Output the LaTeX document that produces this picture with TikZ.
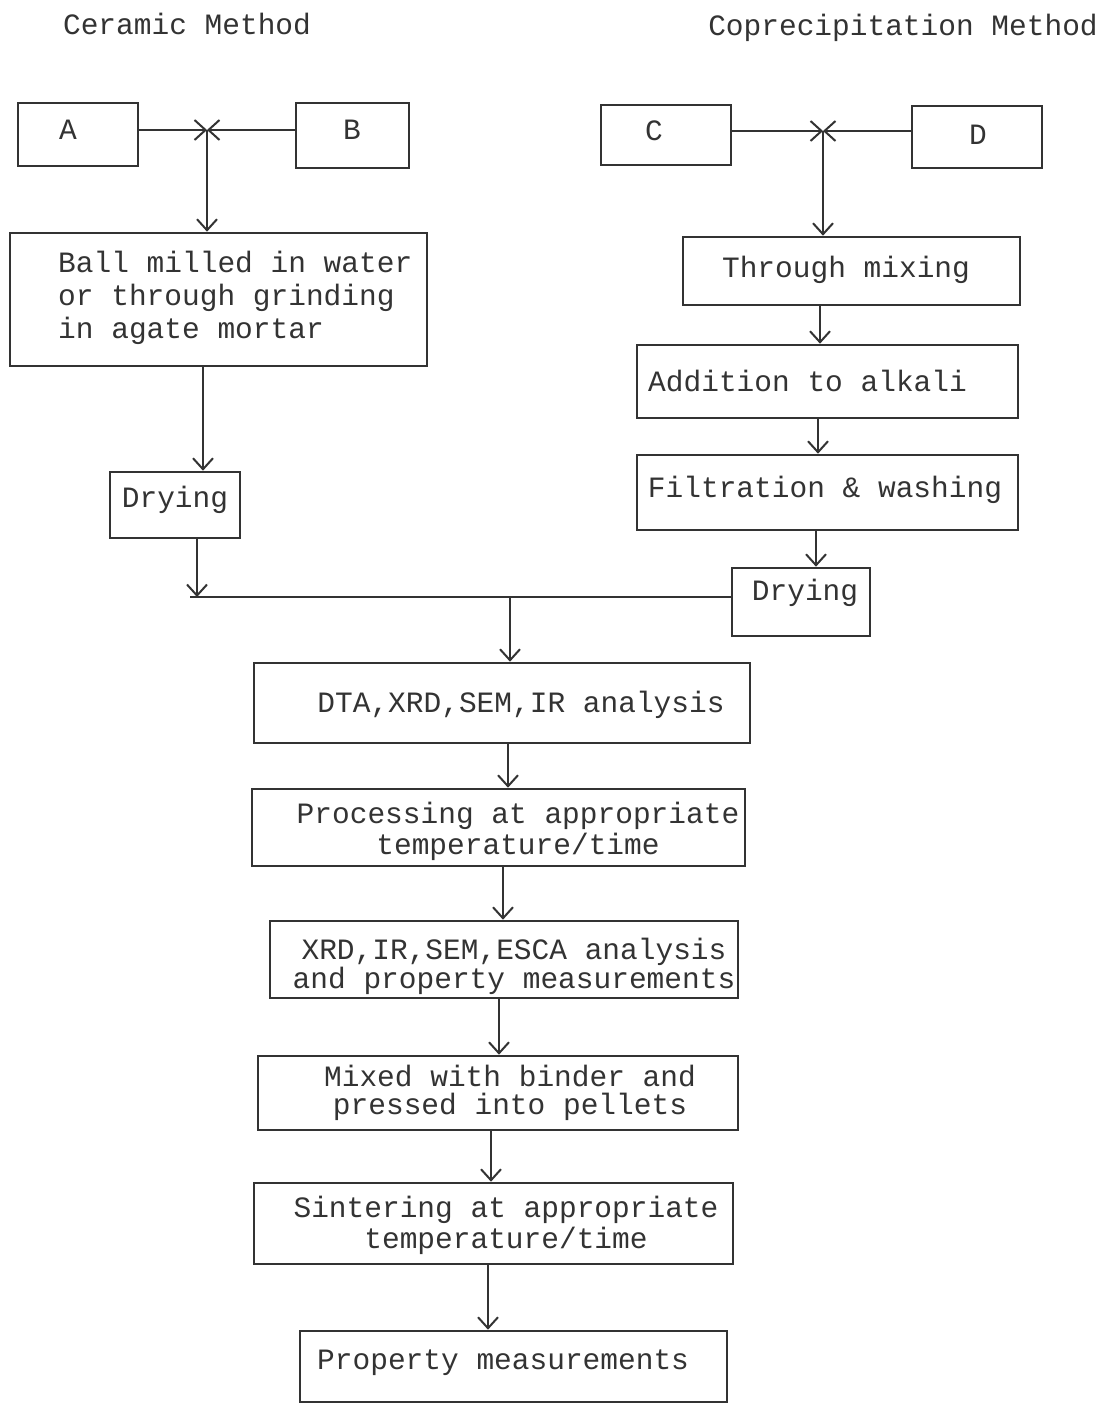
\documentclass[tikz,border=0pt]{standalone}
\usepackage{fontspec}
\setmainfont{Liberation Mono}
\usetikzlibrary{arrows.meta}
\definecolor{ink}{gray}{0.2}
\begin{document}
\begin{tikzpicture}[x=1pt,y=-1pt,
  box/.style={draw=ink,line width=2.6pt,inner sep=0pt},
  txt/.style={text=ink,font=\fontsize{29.5}{32}\selectfont,inner sep=0pt},
  arr/.style={draw=ink,line width=2.4pt,-{Straight Barb[length=11pt,width=20pt,line width=2pt]}},
  ln/.style={draw=ink,line width=2.4pt}]
\useasboundingbox[fill=white] (0,0) rectangle (1106,1405);
% titles
\node[txt] (t1) at (187,24) {Ceramic Method};
\node[txt] (t2) at (903,28) {Coprecipitation Method};
% boxes
\node[box,minimum width=120,minimum height=63] (A) at (78,134.5) {};
\node[box,minimum width=113,minimum height=65] (B) at (352.5,135.5) {};
\node[box,minimum width=417,minimum height=133] (Ball) at (218.5,299.5) {};
\node[box,minimum width=130,minimum height=66] (DryL) at (175,505) {};
\node[box,minimum width=130,minimum height=60] (C) at (666,135) {};
\node[box,minimum width=130,minimum height=62] (D) at (977,137) {};
\node[box,minimum width=337,minimum height=68] (Thr) at (851.5,271) {};
\node[box,minimum width=381,minimum height=73] (Add) at (827.5,381.5) {};
\node[box,minimum width=381,minimum height=75] (Fil) at (827.5,492.5) {};
\node[box,minimum width=138,minimum height=68] (DryR) at (801,602) {};
\node[box,minimum width=496,minimum height=80] (DTA) at (502,703) {};
\node[box,minimum width=493,minimum height=77] (Proc) at (498.5,827.5) {};
\node[box,minimum width=468,minimum height=77] (XRD) at (504,959.5) {};
\node[box,minimum width=480,minimum height=74] (Mix) at (498,1093) {};
\node[box,minimum width=479,minimum height=81] (Sint) at (493.5,1223.5) {};
\node[box,minimum width=427,minimum height=71] (Prop) at (513.5,1366.5) {};
% texts
\node[txt] (tA) at (68,130) {A};
\node[txt] (tB) at (352,130) {B};
\node[txt,align=left,anchor=west,font=\fontsize{29.5}{33}\selectfont] (tBall) at (58,298) {Ball milled in water\\or through grinding\\in agate mortar};
\node[txt] (tDryL) at (175,500) {Drying};
\node[txt] (tC) at (654,131) {C};
\node[txt] (tD) at (978,135) {D};
\node[txt] (tThr) at (846,270) {Through mixing};
\node[txt,anchor=west] (tAdd) at (648,381) {Addition to alkali};
\node[txt] (tFil) at (825,490) {Filtration \& washing};
\node[txt] (tDryR) at (805,593) {Drying};
\node[txt] (tDTA) at (521,705) {DTA,XRD,SEM,IR analysis};
\node[txt,align=center,font=\fontsize{29.5}{31}\selectfont] (tProc) at (518,831.5) {Processing at appropriate\\temperature/time};
\node[txt,align=center,font=\fontsize{29.5}{29}\selectfont] (tXRD) at (514,966.5) {XRD,IR,SEM,ESCA analysis\\and property measurements};
\node[txt,align=center,font=\fontsize{29.5}{28}\selectfont] (tMix) at (510,1093) {Mixed with binder and\\pressed into pellets};
\node[txt,align=center,font=\fontsize{29.5}{31}\selectfont] (tSint) at (506,1225.5) {Sintering at appropriate\\temperature/time};
\node[txt,anchor=west] (tProp) at (317,1363) {Property measurements};
% junction coordinates
\coordinate (jAB) at (207,130);
\coordinate (jCD) at (823,131);
\coordinate (hL) at (190,597);
\coordinate (jM) at (510,597);
% connectors top-left
\draw[arr] (jAB -| A.east) -- (jAB);
\draw[arr] (jAB -| B.west) -- (jAB);
\draw[arr] (jAB) -- (jAB |- Ball.north);
\draw[arr] ([xshift=-15.5]Ball.south) -- ([xshift=-15.5]Ball.south |- DryL.north);
\draw[arr] ([xshift=22]DryL.south) -- ([xshift=22]DryL.south |- hL);
% connectors top-right
\draw[arr] (jCD -| C.east) -- (jCD);
\draw[arr] (jCD -| D.west) -- (jCD);
\draw[arr] (jCD) -- (jCD |- Thr.north);
\draw[arr] ([xshift=-31.5]Thr.south) -- ([xshift=-31.5]Thr.south |- Add.north);
\draw[arr] ([xshift=-9.5]Add.south) -- ([xshift=-9.5]Add.south |- Fil.north);
\draw[arr] ([xshift=-11.5]Fil.south) -- ([xshift=-11.5]Fil.south |- DryR.north);
% merge
\draw[ln] (hL) -- (hL -| DryR.west);
\draw[arr] (jM) -- (jM |- DTA.north);
% main chain
\draw[arr] ([xshift=6]DTA.south) -- ([xshift=6]DTA.south |- Proc.north);
\draw[arr] ([xshift=4.5]Proc.south) -- ([xshift=4.5]Proc.south |- XRD.north);
\draw[arr] ([xshift=-5]XRD.south) -- ([xshift=-5]XRD.south |- Mix.north);
\draw[arr] ([xshift=-7]Mix.south) -- ([xshift=-7]Mix.south |- Sint.north);
\draw[arr] ([xshift=-5.5]Sint.south) -- ([xshift=-5.5]Sint.south |- Prop.north);
\end{tikzpicture}
\end{document}
